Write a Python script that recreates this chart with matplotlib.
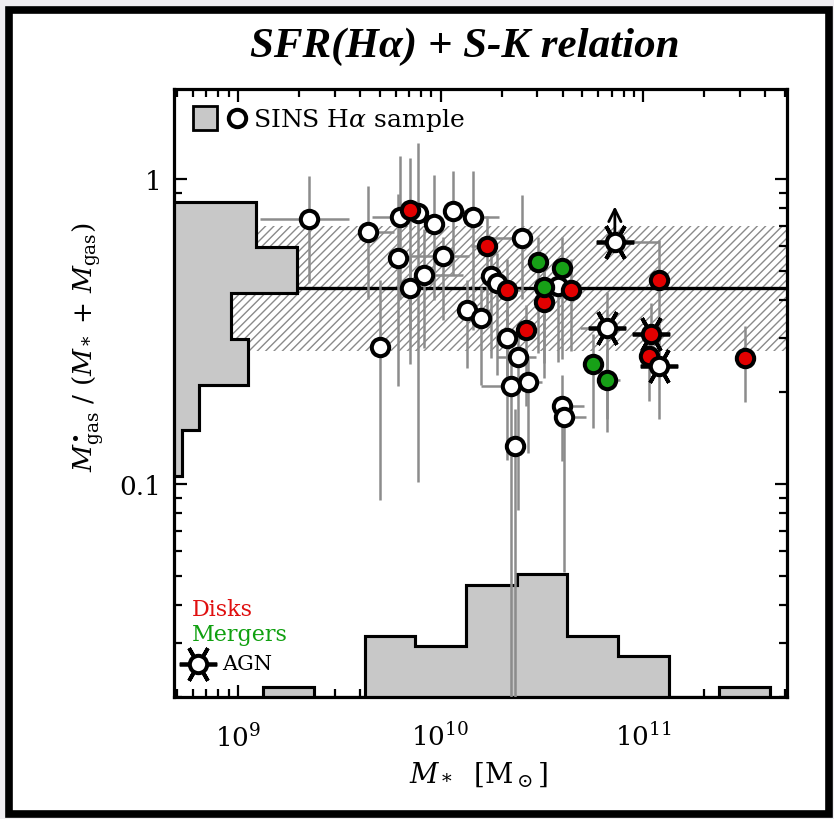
import numpy as np
import matplotlib
matplotlib.use('Agg')
import matplotlib.pyplot as plt
from matplotlib import transforms
from matplotlib.patches import Rectangle
from matplotlib.ticker import FixedLocator, LogLocator, NullFormatter, FixedFormatter

plt.rcParams['font.family'] = ['DejaVu Serif']
plt.rcParams['mathtext.fontset'] = 'dejavuserif'

# SINS H-alpha sample: log stellar mass, gas fraction, errors in dex (lo/hi)
white_logm = [9.35, 9.64, 9.79, 9.80, 9.89, 9.97, 10.06, 10.16, 10.01, 9.92,
              9.85, 10.13, 10.20, 9.70, 10.40, 10.25, 10.28, 10.58, 10.33, 10.38,
              10.35, 10.43, 10.60, 10.61, 10.365]
white_frac = [0.74, 0.67, 0.55, 0.75, 0.77, 0.71, 0.785, 0.75, 0.56, 0.485,
              0.44, 0.37, 0.35, 0.28, 0.64, 0.48, 0.455, 0.445, 0.30, 0.26,
              0.21, 0.215, 0.18, 0.166, 0.133]
white_xlo = [0.24, 0.04, 0, 0.14, 0, 0, 0, 0, 0.16, 0, 0, 0, 0, 0, 0.15, 0, 0, 0, 0,
             0.10, 0.15, 0, 0.05, 0.05, 0]
white_xhi = [0.20, 0.13, 0, 0, 0, 0, 0.06, 0.13, 0.13, 0.19, 0, 0, 0, 0, 0, 0, 0, 0,
             0, 0.09, 0.05, 0.07, 0.11, 0.11, 0]
white_ylo = [0.21, 0.22, 0.42, 0.27, 0.88, 0.25, 0.21, 0.37, 0.21, 0.24, 0.25, 0.19,
             0.22, 0.50, 0.20, 0.27, 0.30, 0.25, 0.40, 0.50, 2.0, 0.23, 0.18, 0.51, 2.0]
white_yhi = [0.14, 0.15, 0.21, 0.20, 0.23, 0.16, 0.13, 0.15, 0.06, 0.15, 0.10, 0.10,
             0.10, 0.22, 0.14, 0.12, 0.10, 0.08, 0.10, 0.10, 0.10, 0.08, 0.10, 0.05, 0.12]

# disks
disk_logm = [9.85, 10.23, 10.33, 10.645, 10.51, 10.42, 11.08, 11.03, 11.50, 11.04]
disk_frac = [0.79, 0.60, 0.433, 0.433, 0.395, 0.32, 0.467, 0.263, 0.259, 0.31]
disk_xlo = [0, 0.08, 0.06, 0, 0, 0, 0, 0, 0, 0.094]
disk_xhi = [0, 0, 0.06, 0.05, 0, 0, 0, 0, 0, 0.089]
disk_ylo = [0.39, 0.25, 0.30, 0.20, 0.25, 0.25, 0.25, 0.15, 0.145, 0.10]
disk_yhi = [0.17, 0.10, 0.10, 0.10, 0.10, 0.08, 0.13, 0.05, 0.105, 0.10]
disk_agn = [False] * 9 + [True]

# mergers
merger_logm = [10.48, 10.60, 10.51, 10.75, 10.82]
merger_frac = [0.534, 0.511, 0.443, 0.247, 0.219]
merger_xlo = [0, 0, 0, 0, 0]
merger_xhi = [0, 0, 0, 0, 0.064]
merger_ylo = [0.30, 0.30, 0.25, 0.21, 0.17]
merger_yhi = [0.08, 0.10, 0.08, 0.10, 0.10]

# AGN (unclassified kinematics)
agn_logm = [10.86, 10.82, 11.08]
agn_frac = [0.622, 0.325, 0.244]
agn_xlo = [0, 0.133, 0]
agn_xhi = [0.22, 0.089, 0.089]
agn_ylo = [0, 0.30, 0.175]
agn_yhi = [0, 0.118, 0.05]
agn_lowlim = [True, False, False]

# S-K relation: median and scatter
sk_median = 0.44
sk_lo, sk_hi = 0.273, 0.70

# histograms (counts)
yhist_edges = [-0.975, -0.825, -0.675, -0.525, -0.375, -0.225, -0.075]
yhist_counts = [1, 3, 9, 7, 15, 10]
xhist_edges = [9.125, 9.375, 9.625, 9.875, 10.125, 10.375, 10.625, 10.875, 11.125, 11.375, 11.625]
xhist_counts = [1, 0, 6, 5, 11, 12, 6, 4, 0, 1]

fig = plt.figure(figsize=(8.34, 8.2), dpi=100, facecolor='#efedf1')
fig.patches.append(Rectangle((9 / 834, 1 - 815 / 820), 820 / 834, 804 / 820,
                             transform=fig.transFigure, facecolor='white',
                             edgecolor='black', lw=5.5, zorder=-1))
ax = fig.add_axes([0.2086, 0.1488, 0.735, 0.7415])
ax.set_xscale('log')
ax.set_yscale('log')
xlim = (10 ** 8.685, 10 ** 11.709)
ylim = (0.02, 1.97)

# S-K band and median
ax.fill_between(xlim, sk_lo, sk_hi, facecolor='none', edgecolor='#8a8a8a',
                hatch='////', linewidth=0, zorder=1)
ax.plot(xlim, [sk_median, sk_median], color='black', lw=2.4, zorder=1.5)

# histograms along the axes
gray = '#c8c8c8'
t_bottom = transforms.blended_transform_factory(ax.transData, ax.transAxes)
t_left = transforms.blended_transform_factory(ax.transAxes, ax.transData)
xh = np.array(xhist_counts) * 0.0168
yh = np.array(yhist_counts) * 0.01338
xe = 10 ** np.array(xhist_edges)
ye = 10 ** np.array(yhist_edges)
for fill in (True, False):
    ax.stairs(xh, xe, baseline=0, fill=fill, transform=t_bottom,
              facecolor=gray, edgecolor='black', lw=2.2, zorder=2)
    ax.stairs(yh, ye, baseline=0, fill=fill, orientation='horizontal',
              transform=t_left, facecolor=gray, edgecolor='black', lw=2.2, zorder=2)

ecol = '#8c8c8c'
msize = 12.5


def draw_group(logm, frac, xlo, xhi, ylo, yhi, face, agn=None):
    m = 10 ** np.array(logm)
    f = np.array(frac)
    xerr = [m - m * 10 ** -np.array(xlo), m * 10 ** np.array(xhi) - m]
    yerr = [f - f * 10 ** -np.array(ylo), f * 10 ** np.array(yhi) - f]
    ax.errorbar(m, f, xerr=xerr, yerr=yerr, fmt='none', ecolor=ecol,
                elinewidth=1.8, capsize=0, zorder=3)
    if agn is not None:
        sel = np.array(agn)
        ax.plot(m[sel], f[sel], ls='none', marker=(6, 2, 90), ms=27,
                mew=2.7, mec='black', zorder=4)
    ax.plot(m, f, ls='none', marker='o', ms=msize, mew=2.9, mfc=face,
            mec='black', zorder=5)


draw_group(white_logm, white_frac, white_xlo, white_xhi, white_ylo, white_yhi, 'white')
draw_group(disk_logm, disk_frac, disk_xlo, disk_xhi, disk_ylo, disk_yhi, '#e30000', disk_agn)
draw_group(merger_logm, merger_frac, merger_xlo, merger_xhi, merger_ylo, merger_yhi, '#17a017')
draw_group(agn_logm, agn_frac, agn_xlo, agn_xhi, agn_ylo, agn_yhi, 'white', [True] * 3)

# lower limit arrows
for lm, fr, lim in zip(agn_logm, agn_frac, agn_lowlim):
    if lim:
        ax.annotate('', xy=(10 ** lm, fr * 10 ** 0.125), xytext=(10 ** lm, fr),
                    arrowprops=dict(arrowstyle='->', lw=2.0, color='black',
                                    mutation_scale=22), zorder=3.5)

ax.set_xlim(xlim)
ax.set_ylim(ylim)

# ticks
ax.yaxis.set_major_locator(FixedLocator([0.1, 1]))
ax.yaxis.set_major_formatter(FixedFormatter(['0.1', '1']))
ax.yaxis.set_minor_locator(LogLocator(base=10, subs=np.arange(2, 10)))
ax.yaxis.set_minor_formatter(NullFormatter())
ax.xaxis.set_major_locator(FixedLocator([1e9, 1e10, 1e11]))
ax.xaxis.set_major_formatter(FixedFormatter([r'$10^{9}$', r'$10^{10}$', r'$10^{11}$']))
ax.xaxis.set_minor_locator(LogLocator(base=10, subs=np.arange(2, 10)))
ax.xaxis.set_minor_formatter(NullFormatter())
ax.tick_params(which='both', direction='in', top=True, right=True, width=1.6,
               labelsize=19)
ax.tick_params(which='major', length=9)
ax.tick_params(which='minor', length=5.5)
ax.tick_params(axis='x', pad=18.5)
ax.tick_params(axis='y', pad=9)
for sp in ax.spines.values():
    sp.set_linewidth(2.3)

# legend box
ax.add_patch(Rectangle((0.031, 0.933), 0.039, 0.039, transform=ax.transAxes,
                       facecolor=gray, edgecolor='black', lw=2.0, zorder=6))
ax.plot([0.103], [0.952], transform=ax.transAxes, marker='o', ms=msize, mew=2.9,
        mfc='white', mec='black', zorder=6, clip_on=False)
ax.text(0.129, 0.950, r'SINS H$\alpha$ sample', transform=ax.transAxes,
        fontsize=18, va='center', ha='left', zorder=6)

ax.text(0.029, 0.145, 'Disks', color='#e01010', transform=ax.transAxes,
        fontsize=16, va='center', ha='left')
ax.text(0.029, 0.104, 'Mergers', color='#10a010', transform=ax.transAxes,
        fontsize=16, va='center', ha='left')
ax.plot([0.039], [0.055], transform=ax.transAxes, marker=(6, 2, 90), ms=27,
        mew=2.7, mec='black', zorder=6)
ax.plot([0.039], [0.055], transform=ax.transAxes, marker='o', ms=msize, mew=2.9,
        mfc='white', mec='black', zorder=6)
ax.text(0.078, 0.055, 'AGN', transform=ax.transAxes, fontsize=15,
        va='center', ha='left')

fig.text(465 / 834, 1 - 47 / 820, 'SFR(Hα) + S-K relation', family='Liberation Serif',
         weight='bold', style='italic', fontsize=31, ha='center', va='center')
fig.text(478 / 834, 1 - 775 / 820, r'$M_*$  [M$_\odot$]', fontsize=20,
         ha='center', va='center')
fig.text(88 / 834, 1 - 347 / 820,
         r'$M^{\bullet}_{\rm gas}$ / ($M_*$ + $M_{\rm gas}$)', fontsize=19,
         rotation=90, ha='center', va='center')

fig.savefig('out.png', dpi=100, facecolor=fig.get_facecolor())
